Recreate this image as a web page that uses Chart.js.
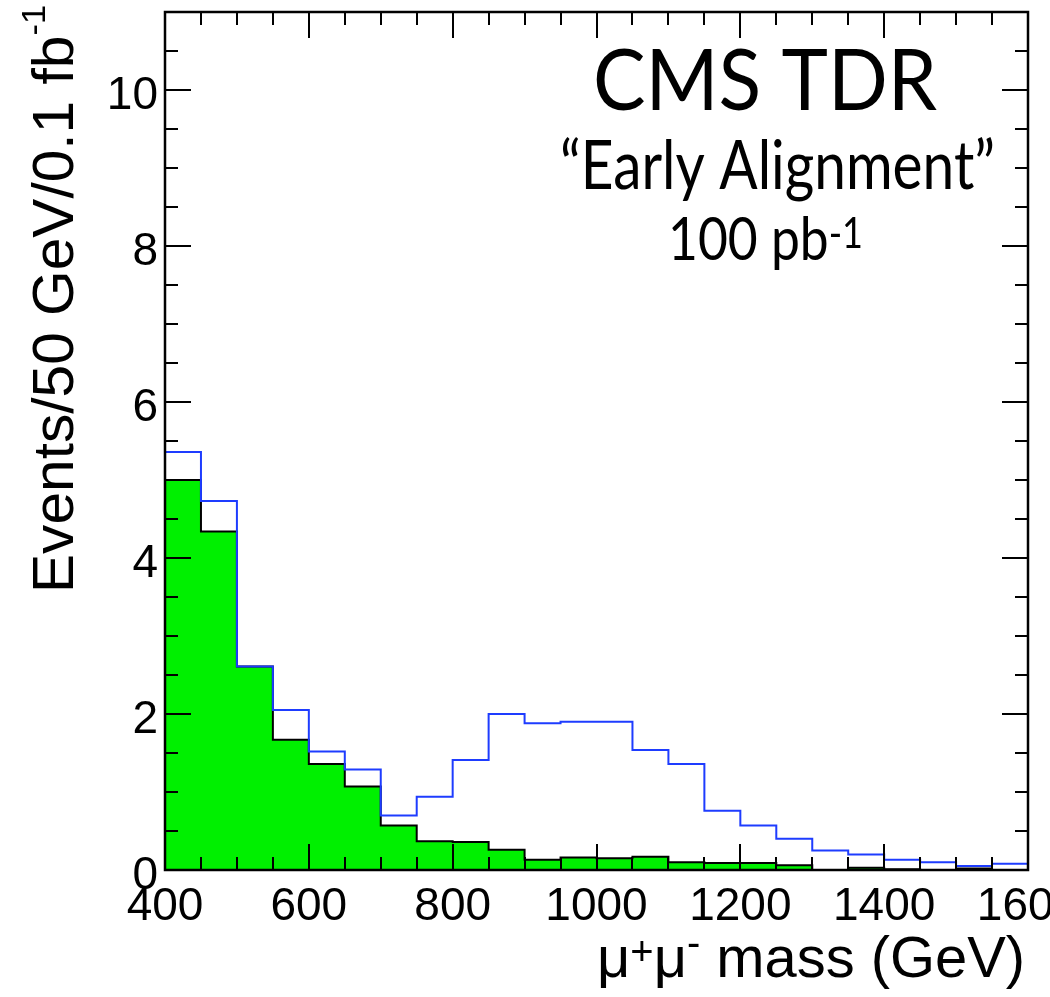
<!DOCTYPE html>
<html>
<head>
<meta charset="utf-8">
<script src="https://cdn.jsdelivr.net/npm/chart.js@4.4.1/dist/chart.umd.min.js"></script>
<style>
  html, body { margin: 0; padding: 0; background: #fff; overflow: hidden; }
  #wrap { width: 1050px; height: 997px; }
</style>
</head>
<body>
<div id="wrap"><canvas id="massChart" width="1050" height="997"></canvas></div>
<script>
// bin lower edges (GeV), last entry is the upper edge of the last bin
const binEdges = [400, 450, 500, 550, 600, 650, 700, 750, 800, 850, 900, 950, 1000,
                  1050, 1100, 1150, 1200, 1250, 1300, 1350, 1400, 1450, 1500, 1550, 1600];

// Drell-Yan background (green filled)
const background = [5.00, 4.34, 2.61, 1.67, 1.36, 1.07, 0.57, 0.37, 0.36, 0.26, 0.13, 0.16,
                    0.15, 0.17, 0.10, 0.09, 0.09, 0.06, 0.00, 0.03, 0.01, 0.00, 0.02, 0.00];

// signal + background (blue outline)
const signalPlusBkg = [5.36, 4.73, 2.61, 2.05, 1.52, 1.29, 0.70, 0.94, 1.41, 2.00, 1.88, 1.90,
                       1.90, 1.54, 1.36, 0.76, 0.57, 0.40, 0.25, 0.20, 0.13, 0.10, 0.05, 0.08];

const xTicks = [400, 600, 800, 1000, 1200, 1400, 1600];
const yTicks = [0, 2, 4, 6, 8, 10];

// turn bin contents into step points at the bin edges
function toSteps(values) {
    const pts = values.map((v, i) => ({ x: binEdges[i], y: v }));
    pts.push({ x: binEdges[binEdges.length - 1], y: values[values.length - 1] });
    return pts;
}

// ROOT-like frame with inward ticks on all four sides
const rootFrame = {
    id: 'rootFrame',
    afterDatasetsDraw(chart) {
        const { ctx, chartArea: a, scales: { x, y } } = chart;
        ctx.save();
        ctx.strokeStyle = '#000';
        ctx.lineWidth = 2;
        ctx.beginPath();
        for (let v = x.min; v <= x.max; v += 50) {
            const px = Math.round(x.getPixelForValue(v));
            const len = xTicks.includes(v) ? 26 : 13;
            ctx.moveTo(px, a.bottom); ctx.lineTo(px, a.bottom - len);
            ctx.moveTo(px, a.top); ctx.lineTo(px, a.top + len);
        }
        for (let v = y.min; v <= y.max + 1e-6; v += 0.5) {
            const py = Math.round(y.getPixelForValue(v));
            const len = yTicks.includes(v) ? 26 : 13;
            ctx.moveTo(a.left, py); ctx.lineTo(a.left + len, py);
            ctx.moveTo(a.right, py); ctx.lineTo(a.right - len, py);
        }
        ctx.stroke();
        ctx.lineWidth = 2.5;
        ctx.strokeRect(a.left, a.top, a.right - a.left, a.bottom - a.top);
        ctx.restore();
    }
};

// draws a row of text pieces (with superscripts) squeezed to a target width
function drawPieces(ctx, pieces, x0, y0, targetWidth) {
    let total = 0;
    pieces.forEach(p => { ctx.font = p.font; total += ctx.measureText(p.text).width; });
    const sx = targetWidth / total;
    ctx.save();
    ctx.translate(x0, y0);
    ctx.scale(sx, 1);
    let cx = 0;
    pieces.forEach(p => {
        ctx.font = p.font;
        ctx.fillText(p.text, cx, p.dy || 0);
        cx += ctx.measureText(p.text).width;
    });
    ctx.restore();
}

const labels = {
    id: 'labels',
    afterDraw(chart) {
        const ctx = chart.ctx;
        ctx.save();
        ctx.fillStyle = '#000';
        ctx.textAlign = 'left';
        ctx.textBaseline = 'alphabetic';

        // y axis title, rotated
        ctx.save();
        ctx.translate(73, 593);
        ctx.rotate(-Math.PI / 2);
        drawPieces(ctx, [
            { text: 'Events/50 GeV/0.1 fb', font: '58px "Liberation Sans"' },
            { text: '-1', font: '34px "Liberation Sans"', dy: -28 }
        ], 0, 0, 588);
        ctx.restore();

        // x axis title
        drawPieces(ctx, [
            { text: 'μ', font: '58px "Liberation Sans"' },
            { text: '+', font: '40px "Liberation Sans"', dy: -12 },
            { text: 'μ', font: '58px "Liberation Sans"' },
            { text: '-', font: '40px "Liberation Sans"', dy: -21 },
            { text: ' mass (GeV)', font: '58px "Liberation Sans"' }
        ], 597, 977, 428);

        // annotation
        drawPieces(ctx, [{ text: 'CMS TDR', font: '86px Lato' }], 593, 110, 344);
        drawPieces(ctx, [{ text: '\u201CEarly Alignment\u201D', font: '68px Lato' }], 560, 189, 435);
        drawPieces(ctx, [
            { text: '100 pb', font: '60px Lato' },
            { text: '-1', font: '42px Lato', dy: -12 }
        ], 668, 260, 195);
        ctx.restore();
    }
};

const ctx = document.getElementById('massChart').getContext('2d');
const massChart = new Chart(ctx, {
    type: 'line',
    data: {
        datasets: [{
            label: 'Signal + background',
            data: toSteps(signalPlusBkg),
            stepped: true,
            borderColor: '#1e3cff',
            borderWidth: 2,
            pointRadius: 0,
            fill: false
        }, {
            label: 'Background',
            data: toSteps(background),
            stepped: true,
            borderColor: '#000000',
            borderWidth: 2,
            backgroundColor: '#00f000',
            pointRadius: 0,
            fill: 'origin'
        }]
    },
    options: {
        responsive: false,
        animation: false,
        layout: {
            padding: { left: 0, top: 12, right: 22, bottom: 0 }
        },
        plugins: {
            legend: { display: false },
            tooltip: { enabled: false }
        },
        scales: {
            x: {
                type: 'linear',
                min: 400,
                max: 1600,
                grid: { display: false, drawTicks: false },
                border: { display: false },
                afterBuildTicks: (scale) => { scale.ticks = xTicks.map(v => ({ value: v })); },
                afterFit: (scale) => {
                    scale.height = 127;
                    scale.paddingLeft = 0;
                    scale.paddingRight = 0;
                },
                ticks: {
                    autoSkip: false,
                    maxRotation: 0,
                    padding: 10,
                    color: '#000',
                    font: { family: 'Liberation Sans', size: 46 },
                    callback: (value) => String(value)
                }
            },
            y: {
                type: 'linear',
                min: 0,
                max: 11,
                grid: { display: false, drawTicks: false },
                border: { display: false },
                afterBuildTicks: (scale) => { scale.ticks = yTicks.map(v => ({ value: v })); },
                afterFit: (scale) => {
                    scale.width = 165;
                    scale.paddingTop = 0;
                    scale.paddingBottom = 0;
                },
                ticks: {
                    padding: 7,
                    labelOffset: 6,
                    color: '#000',
                    font: { family: 'Liberation Sans', size: 46 },
                    callback: (value) => String(value)
                }
            }
        }
    },
    plugins: [rootFrame, labels]
});
</script>
</body>
</html>
